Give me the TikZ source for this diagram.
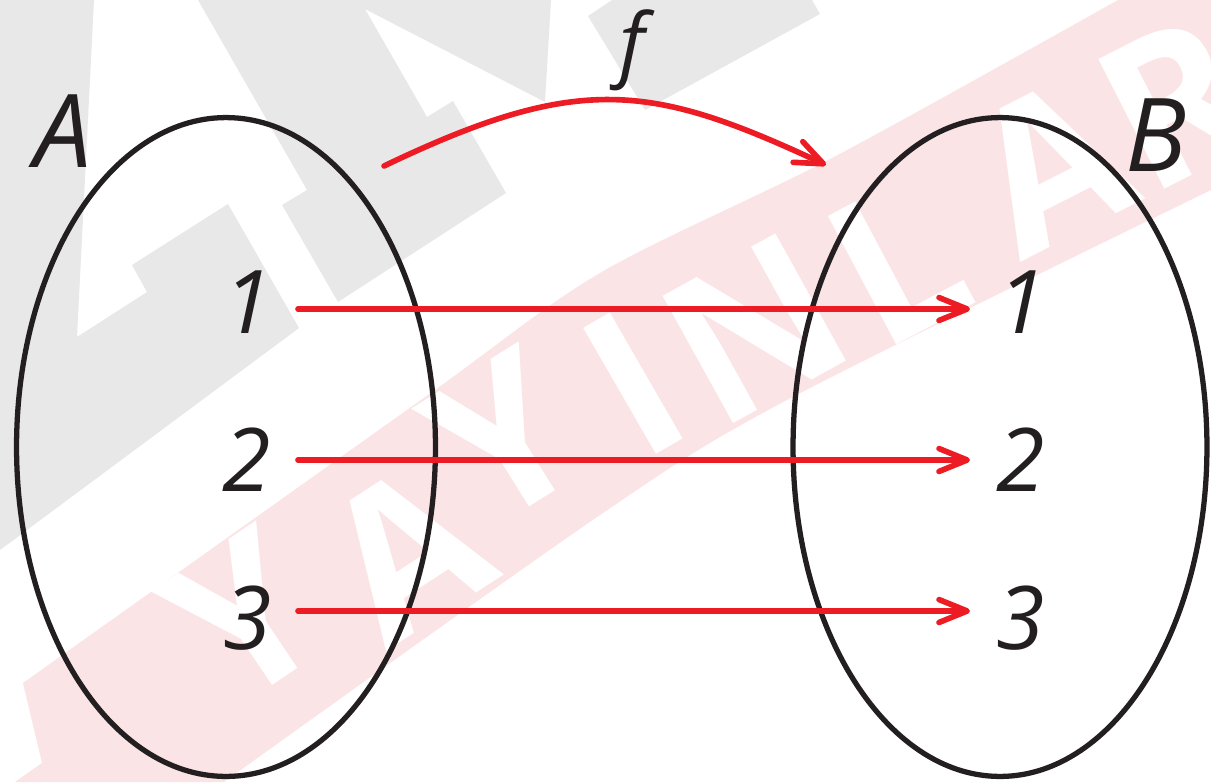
\documentclass[tikz,border=0pt]{standalone}
\usepackage{fontspec}
\setmainfont{Open Sans}
\newfontfamily\wmfont{Open Sans}
\usetikzlibrary{arrows.meta,shapes.geometric}
\definecolor{redline}{HTML}{ED1C24}
\definecolor{ink}{HTML}{231F20}
\definecolor{wmgrey}{HTML}{E8E8E8}
\definecolor{wmpink}{HTML}{FBE4E6}
\begin{document}
\begin{tikzpicture}[x=0.02cm,y=-0.02cm,
  setshape/.style={draw=ink, line width=3pt, ellipse, inner sep=0pt, outer sep=0pt},
  hand/.style={text=ink, font=\itshape\fontsize{50}{50}\selectfont, inner sep=0pt},
  handbig/.style={text=ink, font=\itshape\fontsize{58}{58}\selectfont, inner sep=0pt},
  maparrow/.style={draw=redline, line width=3.2pt, line cap=round,
    -{Straight Barb[length=16pt,width=13pt,line cap=round,line join=round]}},
  wmletter/.style={text=white, font=\wmfont\bfseries\fontsize{116}{116}\selectfont, inner sep=0pt}]
\useasboundingbox (0,0) rectangle (1211,782);
\fill[white] (0,0) rectangle (1211,782);
% watermark (grey)
\fill[wmgrey] (0,0) -- (94,0) -- (77,337) -- (147,292) -- (132,265) -- (228,204) -- (299,328) -- (0,550) -- cycle;
\fill[wmgrey] (198,0) -- (551,0) -- (545,102) -- (365,9) -- (427,117) -- (453,101) -- (506,193) -- (338,302) -- (282,205) -- (307,190) -- cycle;
\fill[wmgrey] (588,16) -- (612,0) -- (812,0) -- (820,14) -- (645,110) -- cycle;
% watermark (pink band)
\fill[wmpink] plot[smooth] coordinates {(23,683) (421,400) (600,273) (834,157) (1118,0)}
  -- (1211,0) -- (1211,190)
  -- plot[smooth] coordinates {(1211,190) (787,400) (600,515) (224,782)}
  -- (15,782) -- (42,763) -- cycle;
\node[wmletter, rotate=34] (w1) at (245,617) {Y};
\node[wmletter, rotate=33] (w2) at (406,552) {A};
\node[wmletter, rotate=32] (w3) at (504,437) {Y};
\node[wmletter, rotate=30] (w4) at (633,384) {I};
\node[wmletter, rotate=29] (w5) at (755,329) {N};
\node[wmletter, rotate=28] (w6) at (897,262) {L};
\node[wmletter, rotate=27] (w7) at (1050,165) {A};
\node[wmletter, rotate=27] (w8) at (1175,102) {R};
% sets
\node[setshape, minimum width=8.38cm, minimum height=13.18cm] (setA) at (226,447) {};
\node[setshape, minimum width=8.28cm, minimum height=13.18cm] (setB) at (1000,447) {};
\node[handbig] (labA) at (63,131) {A};
\node[handbig] (labB) at (1156,135) {B};
\node[text=ink, font=\itshape\fontsize{46}{46}\selectfont, inner sep=0pt] (labf) at (632,50) {f};
\node[hand] (a1) at (248,302) {1};
\node[hand] (a2) at (247,460) {2};
\node[hand] (a3) at (248,618) {3};
\node[hand] (b1) at (1022,302) {1};
\node[hand] (b2) at (1021,460) {2};
\node[hand] (b3) at (1021,618) {3};
% arrows
\coordinate (s1) at (298,309); \coordinate (e1) at (970,309);
\coordinate (s2) at (298,460); \coordinate (e2) at (970,460);
\coordinate (s3) at (298,611); \coordinate (e3) at (970,611);
\draw[maparrow] (s1) -- (e1);
\draw[maparrow] (s2) -- (e2);
\draw[maparrow] (s3) -- (e3);
\coordinate (fs) at (384,166); \coordinate (fe) at (826,165);
\draw[maparrow] (fs) .. controls (580,72) and (652,84) .. (fe);
\end{tikzpicture}
\end{document}
